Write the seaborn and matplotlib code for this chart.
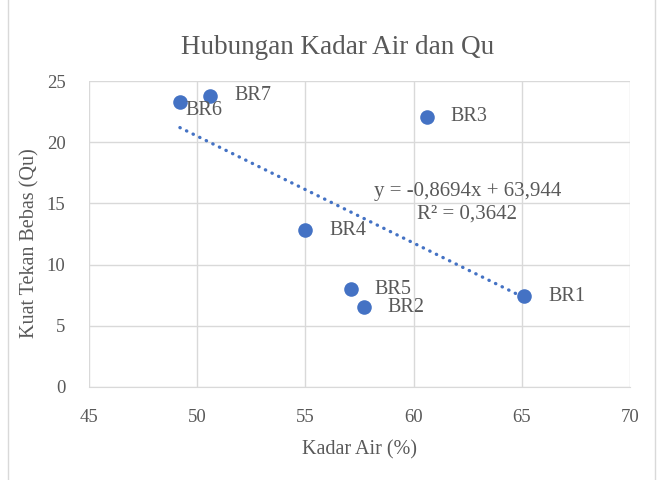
import numpy as np
import pandas as pd
import matplotlib
matplotlib.use('Agg')
import matplotlib.pyplot as plt
import seaborn as sns

# data
labels = ['BR1', 'BR2', 'BR3', 'BR4', 'BR5', 'BR6', 'BR7']
kadar_air = [65.1, 57.7, 60.6, 55.0, 57.1, 49.2, 50.6]
qu = [7.4, 6.5, 22.1, 12.8, 8.0, 23.3, 23.8]
label_offsets = [(24, 0), (24, 0), (24, 0), (24, 0), (24, 0), (6, -9), (24, 0)]

title = 'Hubungan Kadar Air dan Qu'
xlabel = 'Kadar Air (%)'
ylabel = 'Kuat Tekan Bebas (Qu)'
eq_text = 'y = -0,8694x + 63,944\nR² = 0,3642'

df = pd.DataFrame({'label': labels, 'x': kadar_air, 'y': qu})

sns.set_style('white')
plt.rcParams['font.family'] = ['Liberation Serif', 'DejaVu Serif']
txt_color = '#595959'
blue = '#4472C4'
grid_color = '#D9D9D9'

fig = plt.figure(figsize=(6.57, 4.80), dpi=100)
ax = fig.add_axes([0.1355, 0.194, 0.8235, 0.637])

# trendline (linear regression over the data range)
sns.regplot(data=df, x='x', y='y', scatter=False, ci=None, ax=ax,
            line_kws=dict(color=blue, linestyle=(0, (0.1, 2.1)), linewidth=2.4,
                          dash_capstyle='round'))
sns.scatterplot(data=df, x='x', y='y', ax=ax, color=blue, s=110,
                edgecolor=blue, linewidth=0, zorder=3)

for lab, xv, yv, off in zip(labels, kadar_air, qu, label_offsets):
    ax.annotate(lab, (xv, yv), xytext=off, textcoords='offset pixels',
                ha='left', va='center', fontsize=14.5, color=txt_color)

ax.text(0.699, 0.601, eq_text, transform=ax.transAxes, ha='center', va='center',
        multialignment='center', fontsize=15, color=txt_color, linespacing=1.25)

ax.set_xlim(45, 70)
ax.set_ylim(0, 25)
ax.set_xticks(np.arange(45, 71, 5))
ax.set_yticks(np.arange(0, 26, 5))
ax.grid(True, color=grid_color, linewidth=1)
ax.set_axisbelow(True)
for side in ['left', 'right', 'top']:
    ax.spines[side].set_visible(False)
ax.spines['bottom'].set_color(grid_color)
ax.tick_params(axis='x', length=0, labelsize=13.5, labelcolor=txt_color, pad=16)
ax.tick_params(axis='y', length=0, labelsize=13.5, labelcolor=txt_color, pad=17)

ax.set_xlabel(xlabel, fontsize=14.5, color=txt_color, va='center')
ax.xaxis.set_label_coords(0.5, -0.206)
ax.set_ylabel(ylabel, fontsize=14.5, color=txt_color, va='center')
ax.yaxis.set_label_coords(-0.109, 0.47)
fig.text(0.514, 0.902, title, ha='center', va='center', fontsize=19.5, color=txt_color)

# chart border like Excel
fig.patches.append(plt.Rectangle((0.012, -0.01), 0.985, 1.2, transform=fig.transFigure,
                                 fill=False, edgecolor=grid_color, linewidth=1))

fig.savefig('out.png', dpi=100)
